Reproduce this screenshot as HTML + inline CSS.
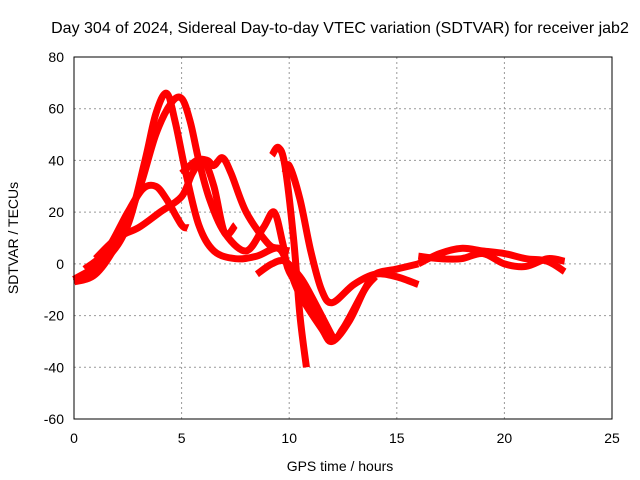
<!DOCTYPE html>
<html><head><meta charset="utf-8"><style>
body{margin:0;background:#fff}
svg{display:block;font-family:"Liberation Sans",sans-serif;font-size:14px}
</style></head><body>
<svg id="c" width="640" height="480">
<text x="340" y="33" text-anchor="middle" style="font-size:16px">Day 304 of 2024, Sidereal Day-to-day VTEC variation (SDTVAR) for receiver jab2</text>
<g id="grid"></g>
<g id="ticks"></g>
<g id="series"></g>
<rect x="74" y="57" width="538" height="362" fill="none" stroke="#000" stroke-width="1"/>
<text x="340" y="471" text-anchor="middle">GPS time / hours</text>
<text transform="translate(18,238) rotate(-90)" text-anchor="middle">SDTVAR / TECUs</text>
</svg>
<script>
const xTicks=[0,5,10,15,20,25];
const yTicks=[-60,-40,-20,0,20,40,60,80];
const track1=[[0,-6],[1.5,2],[2.5,15],[3.3,40],[3.8,58],[4.3,66],[4.7,55],[5.2,35],[5.8,15],[6.5,5],[7.5,2],[8.5,3],[9.5,6],[10,-2],[10.5,-12],[11.5,-25],[12,-30],[12.8,-22],[13.5,-10],[14,-4],[15,-2],[16,0]];
const track2=[[0,-7],[1,-4],[2,8],[3,28],[3.8,50],[4.5,62],[5,64],[5.4,55],[5.8,40],[6.3,25],[7,12],[8,5],[8.8,14],[9.3,20],[9.7,8],[10,-3],[11,-15],[12,-28],[12.5,-25],[13.5,-10],[14,-5]];
const track3=[[0.5,-2],[1.5,5],[2.5,20],[3.2,29],[3.8,30],[4.3,25],[5,15],[5.3,14]];
const track4=[[1,2],[2,10],[3,14],[4,20],[5,26],[5.5,35],[6,40],[6.5,30],[7,12],[7.5,15]];
const track5=[[5,35],[5.7,40],[6.2,40],[6.5,38],[6.9,41],[7.3,35],[8,20],[9,8],[9.5,6],[10,5]];
const track6=[[8.5,-4],[9.2,0],[9.8,1],[10.5,-5],[11,-12],[12,-28]];
const track7=[[9.2,42],[9.5,45],[9.8,38],[10.2,10],[10.5,-20],[10.8,-40]];
const track8=[[9.8,35],[10,38],[10.5,25],[11,5],[11.5,-10],[12,-15],[13,-8],[14,-4],[15,-5],[16,-8]];
const track9=[[16,0],[17,4],[18,6],[19,5],[20,4],[21,2],[22,1],[22.8,-3]];
const track10=[[16,3],[17,2],[18,2],[19,4],[20,0],[21,-1],[22,2],[22.8,1]];
const tracks=[track1,track2,track3,track4,track5,track6,track7,track8,track9,track10];
const NS="http://www.w3.org/2000/svg";
const X=v=>74+v*538/25, Y=v=>419-(v+60)*362/140;
const mk=(t,a,p)=>{const e=document.createElementNS(NS,t);for(const k in a)e.setAttribute(k,a[k]);p.appendChild(e);return e;};
const g=document.getElementById('grid'),tk=document.getElementById('ticks'),s=document.getElementById('series');
xTicks.forEach(v=>{
 if(v>0&&v<25){const l=mk('line',{x1:X(v),x2:X(v),y1:57,y2:419,stroke:'#999','stroke-dasharray':'2,3'},g);
 
 }
 const t=mk('text',{x:X(v),y:443,'text-anchor':'middle'},tk);t.textContent=v;
 
 
});
yTicks.forEach(v=>{
 if(v>-60&&v<80){const l=mk('line',{x1:74,x2:612,y1:Y(v),y2:Y(v),stroke:'#999','stroke-dasharray':'2,3'},g);
 
 }
 const t=mk('text',{x:64,y:Y(v)+5,'text-anchor':'end'},tk);t.textContent=v;
 
 
});
function smooth(pts){
 let d='M'+pts[0][0]+','+pts[0][1];
 for(let i=0;i<pts.length-1;i++){
  const p0=pts[i-1]||pts[i],p1=pts[i],p2=pts[i+1],p3=pts[i+2]||p2;
  const c1=[p1[0]+(p2[0]-p0[0])/6,p1[1]+(p2[1]-p0[1])/6];
  const c2=[p2[0]-(p3[0]-p1[0])/6,p2[1]-(p3[1]-p1[1])/6];
  d+=' C'+c1[0]+','+c1[1]+' '+c2[0]+','+c2[1]+' '+p2[0]+','+p2[1];
 }
 return d;
}
tracks.forEach(tr=>{
 const pts=tr.map(d=>[X(d[0]),Y(d[1])]);
 const p=mk('path',{d:smooth(pts),fill:'none',stroke:'#f00','stroke-width':7,'stroke-linejoin':'round'},s);
 
 
});
</script>
</body></html>
